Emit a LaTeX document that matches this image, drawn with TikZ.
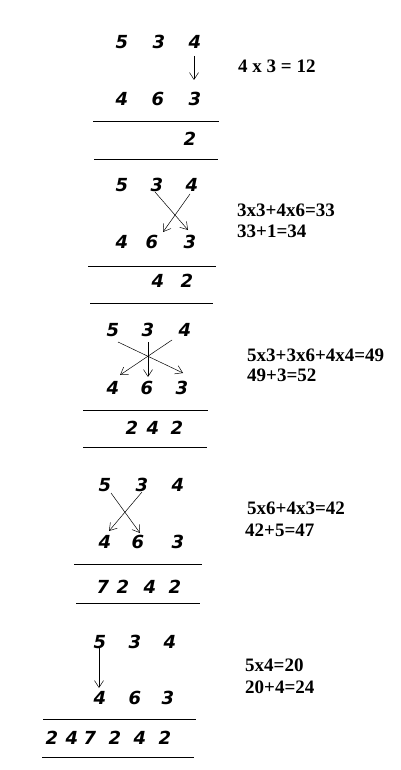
\documentclass[tikz,border=0pt]{standalone}
\usepackage{fontspec}
\setmainfont{Liberation Serif}
\newfontfamily\digitfont{DejaVu Sans}
\usetikzlibrary{arrows.meta}
\tikzset{
  dg/.style={inner sep=0pt, font=\digitfont\bfseries\itshape\fontsize{18}{18}\selectfont},
  eq/.style={inner sep=0pt, anchor=west, font=\bfseries\fontsize{19}{19}\selectfont},
  rule/.style={line width=0.8pt},
  arr/.style={line width=0.5pt, -{Straight Barb[length=7pt,width=9pt,line width=0.5pt]}}
}
\begin{document}
\begin{tikzpicture}[x=1pt,y=-1pt]
\useasboundingbox (0,0) rectangle (400,770);
% ---------- block 1
\node[dg] (a5) at (122,42) {5};
\node[dg] (a3) at (159,42) {3};
\node[dg] (a4) at (195,42) {4};
\node[dg] (ab4) at (122,99) {4};
\node[dg] (ab6) at (158,99) {6};
\node[dg] (ab3) at (195,99) {3};
\draw[arr] ([shift={(-1,14)}]a4.center) -- ([shift={(-1,-19)}]ab3.center);
\draw[rule] (93,121) -- (219,121);
\node[dg] (ar2) at (190,139) {2};
\draw[rule] (94,159) -- (218,159);
\node[eq] (ae) at (238,66) {4 x 3 = 12};
% ---------- block 2
\node[dg] (b5) at (122,185) {5};
\node[dg] (b3) at (157,185) {3};
\node[dg] (b4) at (192,185) {4};
\node[dg] (bb4) at (122,242) {4};
\node[dg] (bb6) at (152,242) {6};
\node[dg] (bb3) at (190,242) {3};
\draw[arr] ([shift={(-2,7)}]b3.center) -- ([shift={(-2,-12)}]bb3.center);
\draw[arr] ([shift={(-2,9)}]b4.center) -- ([shift={(11,-10)}]bb6.center);
\draw[rule] (88,266) -- (216,266);
\node[dg] (br4) at (158,281) {4};
\node[dg] (br2) at (187,281) {2};
\draw[rule] (90,303) -- (213,303);
\node[eq] (be1) at (237,210) {3x3+4x6=33};
\node[eq] (be2) at (237,231) {33+1=34};
% ---------- block 3
\node[dg] (c5) at (113,330) {5};
\node[dg] (c3) at (148,330) {3};
\node[dg] (c4) at (185,330) {4};
\node[dg] (cb4) at (113,388) {4};
\node[dg] (cb6) at (147,388) {6};
\node[dg] (cb3) at (182,388) {3};
\draw[arr] ([shift={(5,12)}]c5.center) -- ([shift={(1,-15)}]cb3.center);
\draw[arr] ([shift={(0,12)}]c3.center) -- ([shift={(1,-11)}]cb6.center);
\draw[arr] ([shift={(-13,10)}]c4.center) -- ([shift={(7,-13)}]cb4.center);
\draw[rule] (83,410) -- (208,410);
\node[dg] (cr2a) at (132,428) {2};
\node[dg] (cr4) at (153,428) {4};
\node[dg] (cr2b) at (177,428) {2};
\draw[rule] (83,447) -- (207,447);
\node[eq] (ce1) at (247,355) {5x3+3x6+4x4=49};
\node[eq] (ce2) at (247,375) {49+3=52};
% ---------- block 4
\node[dg] (d5) at (105,485) {5};
\node[dg] (d3) at (142,485) {3};
\node[dg] (d4) at (178,485) {4};
\node[dg] (db4) at (105,542) {4};
\node[dg] (db6) at (138,542) {6};
\node[dg] (db3) at (178,542) {3};
\draw[arr] ([shift={(6,8)}]d5.center) -- ([shift={(2,-9)}]db6.center);
\draw[arr] ([shift={(0,7)}]d3.center) -- ([shift={(4,-11)}]db4.center);
\draw[rule] (74,564) -- (202,564);
\node[dg] (dr7) at (103,587) {7};
\node[dg] (dr2a) at (123,587) {2};
\node[dg] (dr4) at (150,587) {4};
\node[dg] (dr2b) at (175,587) {2};
\draw[rule] (76,603) -- (200,603);
\node[eq] (de1) at (247,508) {5x6+4x3=42};
\node[eq] (de2) at (245,530) {42+5=47};
% ---------- block 5
\node[dg] (e5) at (100,642) {5};
\node[dg] (e3) at (135,642) {3};
\node[dg] (e4) at (170,642) {4};
\node[dg] (eb4) at (100,698) {4};
\node[dg] (eb6) at (135,698) {6};
\node[dg] (eb3) at (168,698) {3};
\draw[arr] ([shift={(-1,6)}]e5.center) -- ([shift={(-1,-10)}]eb4.center);
\draw[rule] (43,719) -- (196,719);
\node[dg] (er1) at (52,738) {2};
\node[dg] (er2) at (72,738) {4};
\node[dg] (er3) at (90,738) {7};
\node[dg] (er4) at (115,738) {2};
\node[dg] (er5) at (140,738) {4};
\node[dg] (er6) at (165,738) {2};
\draw[rule] (42,757) -- (194,757);
\node[eq] (ee1) at (245,665) {5x4=20};
\node[eq] (ee2) at (245,687) {20+4=24};
\end{tikzpicture}
\end{document}
